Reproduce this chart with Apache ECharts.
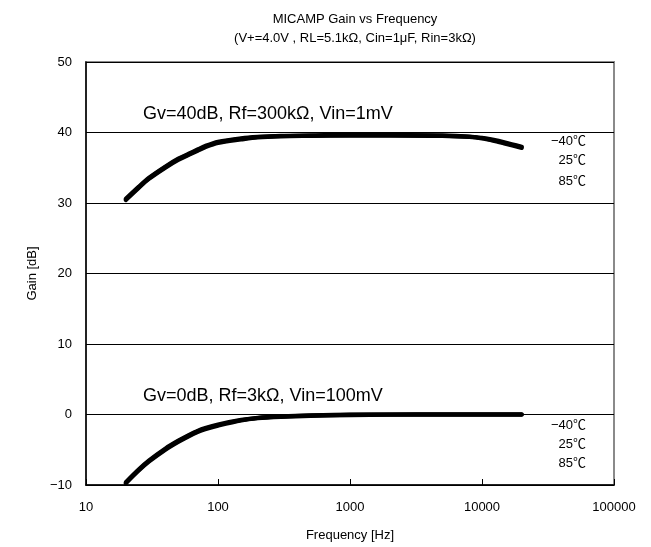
<!DOCTYPE html>
<html>
<head>
<meta charset="utf-8">
<script src="https://cdn.jsdelivr.net/npm/echarts@6/dist/echarts.min.js"></script>
<style>html,body{margin:0;padding:0;background:#fff;}#c{width:651px;height:547px;}</style>
</head>
<body>
<div id="c"></div>
<script>
// Frequencies (Hz)
const freqHigh = [20, 25, 30, 40, 50, 60, 70, 80, 100, 150, 200, 300, 500, 1000, 2000, 5000, 8000, 10000, 12000, 15000, 20000];
// Gv=40dB curves (dB) for -40, 25, 85 C
const gainHighM40 = [30.6, 32.3, 33.6, 35.2, 36.3, 37.0, 37.6, 38.1, 38.7, 39.2, 39.4, 39.55, 39.6, 39.7, 39.65, 39.6, 39.45, 39.25, 39.0, 38.6, 38.0];
const gainHigh25  = [30.5, 32.2, 33.5, 35.1, 36.2, 36.9, 37.5, 38.0, 38.6, 39.1, 39.35, 39.5, 39.55, 39.6, 39.6, 39.55, 39.4, 39.2, 38.9, 38.5, 37.9];
const gainHigh85  = [30.4, 32.1, 33.4, 35.0, 36.1, 36.8, 37.4, 37.9, 38.5, 39.0, 39.3, 39.45, 39.5, 39.55, 39.55, 39.5, 39.35, 39.15, 38.85, 38.4, 37.8];
const freqLow = [20, 25, 30, 40, 50, 60, 70, 80, 100, 150, 200, 300, 500, 1000, 2000, 5000, 10000, 20000];
// Gv=0dB curves (dB)
const gainLowM40 = [-9.6, -7.8, -6.5, -4.8, -3.7, -2.9, -2.3, -1.9, -1.4, -0.75, -0.45, -0.25, -0.1, 0.0, 0.0, 0.05, 0.05, 0.05];
const gainLow25  = [-9.7, -7.9, -6.6, -4.9, -3.8, -3.0, -2.4, -2.0, -1.5, -0.8, -0.5, -0.3, -0.15, -0.05, 0.0, 0.0, 0.0, 0.0];
const gainLow85  = [-9.8, -8.0, -6.7, -5.0, -3.9, -3.1, -2.5, -2.1, -1.6, -0.85, -0.55, -0.35, -0.2, -0.1, -0.05, -0.05, -0.05, -0.05];
const xTicks = [10, 100, 1000, 10000, 100000];
const yTicks = [-10, 0, 10, 20, 30, 40, 50];
const tempLabels = ['\u221240\u2103', '25\u2103', '85\u2103'];
const titleText = 'MICAMP Gain vs Frequency';
const subText = '(V+=4.0V , RL=5.1k\u03A9, Cin=1\u03BCF, Rin=3k\u03A9)';
const noteHigh = 'Gv=40dB, Rf=300k\u03A9, Vin=1mV';
const noteLow = 'Gv=0dB, Rf=3k\u03A9, Vin=100mV';

const FONT = "'Liberation Sans', 'Noto Sans CJK JP', sans-serif";
function pairs(xs, ys) { return xs.map((x, i) => [x, ys[i]]); }
function mkSeries(xs, ys) {
  return { type: 'line', data: pairs(xs, ys), showSymbol: false, smooth: 0.3,
    lineStyle: { color: '#000', width: 4, cap: 'round', join: 'round' }, silent: true, animation: false };
}
const chart = echarts.init(document.getElementById('c'));
const grid = { left: 86, right: 37, top: 62, bottom: 62 };
chart.setOption({
  animation: false,
  backgroundColor: '#fff',
  textStyle: { fontFamily: FONT },
  title: [
    { text: titleText, left: 350, top: 8, textAlign: 'center',
      textStyle: { fontSize: 13, fontWeight: 'normal', color: '#000', fontFamily: FONT } },
    { text: subText, left: 350, top: 27, textAlign: 'center',
      textStyle: { fontSize: 13, fontWeight: 'normal', color: '#000', fontFamily: FONT } }
  ],
  grid: Object.assign({ show: true, borderColor: '#8a8a8a', borderWidth: 2 }, grid),
  xAxis: {
    type: 'log', logBase: 10, min: xTicks[0], max: xTicks[xTicks.length - 1],
    name: 'Frequency [Hz]', nameLocation: 'middle', nameGap: 44,
    nameTextStyle: { fontSize: 13, color: '#000', fontFamily: FONT },
    axisLine: { show: true, onZero: false, lineStyle: { color: '#000', width: 1.5 } },
    axisTick: { show: true, inside: true, length: 6, lineStyle: { color: '#000' } },
    minorTick: { show: false },
    splitLine: { show: false },
    axisLabel: { color: '#000', fontSize: 13, margin: 16, fontFamily: FONT, formatter: v => String(Math.round(v)) }
  },
  yAxis: {
    type: 'value', min: yTicks[0], max: yTicks[yTicks.length - 1], interval: 10,
    name: 'Gain [dB]', nameLocation: 'middle', nameGap: 45, nameRotate: 90,
    nameTextStyle: { fontSize: 13, color: '#000', fontFamily: FONT },
    axisLine: { show: true, lineStyle: { color: '#000', width: 1.5 } },
    axisTick: { show: true, inside: true, length: 6, lineStyle: { color: '#000' } },
    splitLine: { show: true, lineStyle: { color: '#000', width: 1 } },
    axisLabel: { color: '#000', fontSize: 13, margin: 14, fontFamily: FONT,
      formatter: v => (v < 0 ? '\u2212' + Math.abs(v) : String(v)) }
  },
  series: [
    mkSeries(freqHigh, gainHighM40), mkSeries(freqHigh, gainHigh25), mkSeries(freqHigh, gainHigh85),
    mkSeries(freqLow, gainLowM40), mkSeries(freqLow, gainLow25), mkSeries(freqLow, gainLow85)
  ]
});

// annotations placed at data coordinates
function px(f, g) { return chart.convertToPixel({ gridIndex: 0 }, [f, g]); }
const gfx = [];
const pH = px(20, 42.5);
gfx.push({ type: 'text', left: 143, top: pH[1] - 10, style: { text: noteHigh, font: "18px " + FONT, fill: '#000' } });
const pL = px(20, 2.5);
gfx.push({ type: 'text', left: 143, top: pL[1] - 10, style: { text: noteLow, font: "18px " + FONT, fill: '#000' } });
[[38.7, 36.0, 33.1], [-1.5, -4.2, -7.0]].forEach(vals => {
  vals.forEach((v, i) => {
    const p = px(20000, v);
    gfx.push({ type: 'text', x: 586, y: p[1], style: { text: tempLabels[i], font: "13px " + FONT, fill: '#000', textAlign: 'right', textVerticalAlign: 'middle' } });
  });
});
chart.setOption({ graphic: gfx });
</script>
</body>
</html>
